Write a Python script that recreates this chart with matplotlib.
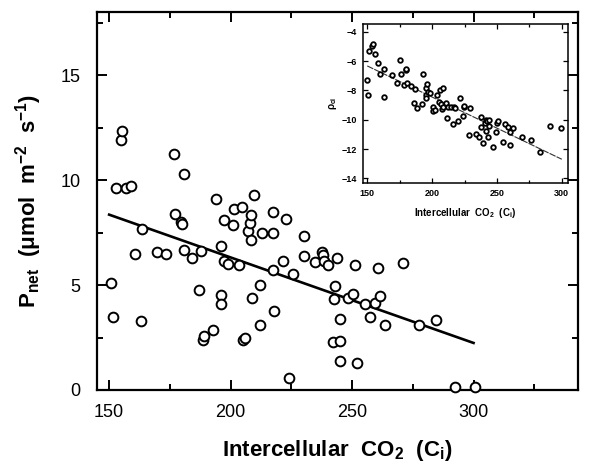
import numpy as np
import matplotlib.pyplot as plt
from matplotlib.ticker import MultipleLocator

plt.rcParams['font.family'] = ['Liberation Sans', 'DejaVu Sans']
plt.rcParams['mathtext.fontset'] = 'custom'
plt.rcParams['mathtext.rm'] = 'Liberation Sans:bold'
plt.rcParams['mathtext.it'] = 'Liberation Sans:bold'
plt.rcParams['mathtext.bf'] = 'Liberation Sans:bold'

# main panel: net photosynthesis vs intercellular CO2
ci = [150.7, 151.6, 152.7, 154.8, 155.2, 156.9, 159.0, 160.7, 163.3, 163.6,
      169.9, 173.5, 176.5, 177.1, 179.4, 180.1, 180.8, 181.0, 184.2, 187.0,
      188.0, 188.5, 188.9, 192.9, 194.1, 195.9, 196.0, 196.2, 197.1, 197.1,
      199.1, 201.1, 201.2, 203.4, 204.5, 205.0, 205.8, 207.2, 208.0, 208.4,
      208.4, 208.8, 209.8, 212.1, 212.2, 213.1, 217.3, 217.3, 217.6, 217.8,
      221.4, 223.0, 223.9, 225.5, 230.1, 230.4, 234.8, 237.7, 237.9, 238.6,
      240.0, 242.2, 242.5, 243.1, 243.8, 245.1, 245.2, 245.2, 248.3, 250.4,
      251.4, 252.1, 255.5, 257.2, 259.6, 260.6, 261.3, 263.6, 270.8, 277.5,
      284.5, 292.2, 300.5]
pnet = [5.08, 3.50, 9.63, 11.90, 12.32, 9.62, 9.73, 6.50, 3.30, 7.65,
        6.57, 6.49, 11.24, 8.40, 8.02, 7.90, 6.65, 10.30, 6.30, 4.78,
        6.63, 2.38, 2.59, 2.87, 9.08, 4.52, 4.08, 6.87, 8.11, 6.12,
        6.00, 7.86, 8.63, 5.95, 8.70, 2.40, 2.46, 7.56, 7.93, 8.33,
        7.14, 4.40, 9.29, 3.10, 5.02, 7.50, 8.50, 5.71, 7.48, 3.75,
        6.12, 8.14, 0.56, 5.54, 7.32, 6.40, 6.08, 6.55, 6.45, 6.16,
        5.95, 2.30, 4.33, 4.94, 6.29, 3.40, 2.35, 1.38, 4.40, 4.57,
        5.94, 1.29, 4.11, 3.49, 4.14, 5.80, 4.46, 3.10, 6.05, 3.10,
        3.35, 0.16, 0.16]
fit_x = [150, 300]
fit_y = [8.35, 2.24]

# inset panel
ci_in = [150.0, 150.6, 151.6, 154.0, 154.6, 155.9, 158.0, 159.6, 162.9, 162.9,
         169.1, 172.7, 175.5, 176.2, 178.6, 179.6, 180.1, 180.4, 183.5, 186.0,
         186.9, 188.1, 192.0, 193.2, 195.3, 195.3, 195.3, 195.8, 196.5, 198.4,
         200.4, 200.4, 202.2, 204.0, 205.6, 206.1, 207.0, 208.0, 208.1, 208.5,
         211.0, 211.2, 212.5, 214.3, 216.4, 216.9, 217.7, 220.2, 221.5, 223.6,
         224.6, 224.9, 228.7, 229.2, 233.6, 236.1, 237.5, 237.7, 239.0, 240.8,
         241.6, 241.6, 242.1, 243.0, 244.1, 244.1, 247.2, 249.3, 249.8, 250.6,
         254.5, 256.2, 258.8, 260.1, 260.1, 262.1, 269.6, 276.3, 283.2, 290.9,
         299.4]
pci_in = [-7.32, -8.32, -5.29, -4.95, -4.84, -5.54, -6.11, -6.91, -6.54, -8.43,
          -6.98, -7.48, -5.93, -6.91, -7.64, -6.61, -6.57, -7.48, -7.70, -8.84,
          -7.90, -9.23, -8.93, -6.91, -7.86, -8.32, -8.55, -7.58, -8.10, -8.16,
          -9.16, -9.39, -9.34, -8.30, -8.78, -7.98, -8.90, -9.30, -7.84, -9.10,
          -8.87, -9.86, -9.10, -9.10, -10.31, -9.10, -9.20, -10.06, -8.55, -9.72,
          -9.12, -9.07, -11.05, -9.19, -10.95, -11.20, -10.50, -9.80, -11.60, -10.20,
          -10.00, -10.80, -10.10, -11.20, -10.05, -10.40, -11.85, -10.85, -10.20, -10.10,
          -11.50, -10.30, -10.50, -10.85, -11.75, -10.60, -11.20, -11.40, -12.20, -10.45,
          -10.60]
fit_in_x = [150, 300]
fit_in_y = [-6.33, -12.70]

fig = plt.figure(figsize=(5.9, 4.66), dpi=100)
ax = fig.add_axes([97 / 590, 1 - 390 / 466, 481 / 590, 378 / 466])
ax.plot(ci, pnet, 'o', ms=7, mfc='white', mec='black', mew=1.4,
        linestyle='none', clip_on=False, zorder=3)
ax.plot(fit_x, fit_y, color='black', lw=1.9, zorder=2)

ax.set_xlim(145, 343)
ax.set_ylim(0, 18)
ax.xaxis.set_major_locator(MultipleLocator(50))
ax.xaxis.set_minor_locator(MultipleLocator(25))
ax.yaxis.set_major_locator(MultipleLocator(5))
ax.yaxis.set_minor_locator(MultipleLocator(2.5))
ax.tick_params(which='both', direction='in', top=True, right=True, width=1.4)
ax.tick_params(which='major', length=7, labelsize=13)
ax.tick_params(which='minor', length=4)
ax.tick_params(axis='x', which='major', pad=10)
ax.tick_params(axis='y', which='major', pad=12)
for s in ax.spines.values():
    s.set_linewidth(1.6)
ax.set_xlabel('Intercellular  CO$_2$  (C$_i$)', fontsize=16, fontweight='bold',
              labelpad=12)
ax.set_ylabel('P$_{net}$  (\u03bcmol  m$^{-2}$  s$^{-1}$)', fontsize=16,
              fontweight='bold', labelpad=12)

# inset
ins = fig.add_axes([362.7 / 590, 1 - 183.3 / 466, 205.6 / 590, 159.3 / 466])
ins.set_facecolor('white')
ins.plot(ci_in, pci_in, 'o', ms=3.3, mfc='white', mec='black', mew=1.3,
         linestyle='none', zorder=3)
ins.plot(fit_in_x, fit_in_y, color='#333333', lw=0.8, dashes=(6, 1), zorder=2)
ins.set_xlim(146.5, 305)
ins.set_ylim(-14.34, -3.47)
ins.xaxis.set_major_locator(MultipleLocator(50))
ins.xaxis.set_minor_locator(MultipleLocator(25))
ins.yaxis.set_major_locator(MultipleLocator(2))
ins.tick_params(which='both', direction='in', top=True, right=True, width=0.9,
                labelsize=6.5, pad=4)
ins.tick_params(which='major', length=3.5)
ins.tick_params(which='minor', length=2)
for lab in ins.get_xticklabels() + ins.get_yticklabels():
    lab.set_fontweight('bold')
for s in ins.spines.values():
    s.set_linewidth(1.1)
ins.set_xlabel('Intercellular  CO$_2$  (C$_i$)', fontsize=7, fontweight='bold',
               labelpad=6)
ins.set_ylabel('\u03c1$_{ci}$', fontsize=7, fontweight='bold', labelpad=2)

fig.savefig('out.png', dpi=100)
